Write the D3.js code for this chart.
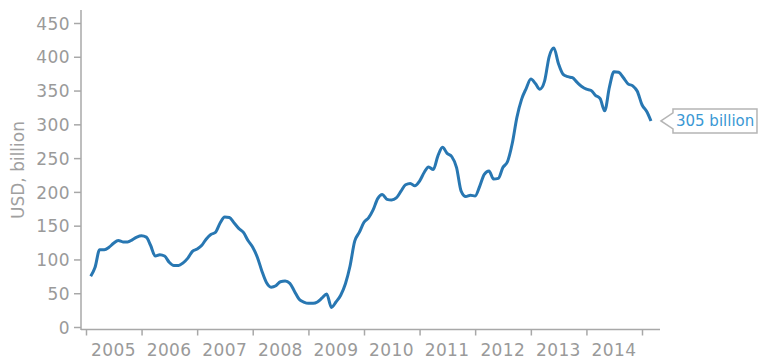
<!DOCTYPE html>
<html>
<head>
<meta charset="utf-8">
<title>USD billion</title>
<script src="https://cdn.jsdelivr.net/npm/d3@7"></script>
<style>
    body { margin: 0; background: #fff; }
    .axis text { font: 17px "DejaVu Sans", sans-serif; fill: #9a9a9a; letter-spacing: 0.4px; }
    .axis line, .axis path { stroke: #a8a8a8; stroke-width: 1.5px; }
    .line { fill: none; stroke: #2877b2; stroke-width: 3px; stroke-linejoin: round; }
</style>
</head>
<body>
<script>
// monthly values, USD billion (Feb 2005 .. Mar 2015)
var v2005 = [75, 88, 114.5, 114.5, 118, 124, 128, 126, 126, 129, 133];
var v2006 = [135, 133, 121, 105, 107, 105, 96, 91, 91, 95, 102, 112];
var v2007 = [115.5, 121, 130, 137, 140, 154, 163, 162, 154, 146, 140, 128];
var v2008 = [118, 103, 83, 65.5, 59, 61, 67, 68, 64.7, 53, 41, 37];
var v2009 = [35, 35, 37, 43, 49, 29, 37, 47, 64, 90, 127, 140];
var v2010 = [155, 162, 173, 190, 196, 189, 188, 191, 201, 210.5, 212.5, 209];
var v2011 = [216, 229, 237, 233, 253, 266, 257, 252, 236, 201, 193, 195];
var v2012 = [194, 209, 226, 231, 219, 220, 236, 245, 272, 310, 337, 353];
var v2013 = [367, 360, 352, 364, 400, 413, 390, 374, 370.5, 369, 362, 356];
var v2014 = [352, 350, 343, 338, 320, 355, 378, 377, 369, 360, 357, 349];
var v2015 = [329, 319, 305];

var yearLabels = ["2005", "2006", "2007", "2008", "2009", "2010", "2011", "2012", "2013", "2014"];
var yTicks = [0, 50, 100, 150, 200, 250, 300, 350, 400, 450];
var lastLabel = "305 billion";

var values = [].concat(v2005, v2006, v2007, v2008, v2009, v2010, v2011, v2012, v2013, v2014, v2015);
var start = new Date(2005, 1, 1);
var data = values.map(function (v, i) {
    return { date: d3.timeMonth.offset(start, i), value: v };
});

var width = 761, height = 361;

var x = d3.scaleTime()
    .domain([new Date(2005, 0, 1), new Date(2015, 0, 1)])
    .range([86, 642]);

var y = d3.scaleLinear()
    .domain([0, 450])
    .range([327, 23]);

var svg = d3.select("body").append("svg")
    .attr("width", width)
    .attr("height", height);

// y axis
var yAxis = d3.axisLeft(y)
    .tickValues(yTicks)
    .tickSize(7)
    .tickSizeOuter(0)
    .tickPadding(4);

var gy = svg.append("g")
    .attr("class", "axis")
    .attr("transform", "translate(81,0)")
    .call(yAxis);
gy.select(".domain").remove();
gy.selectAll("text").attr("dy", "0.36em");

svg.append("line")
    .attr("x1", 81).attr("x2", 81)
    .attr("y1", 10).attr("y2", 330)
    .attr("stroke", "#a8a8a8")
    .attr("stroke-width", 1.5);

// x axis
var xAxis = d3.axisBottom(x)
    .ticks(d3.timeYear.every(1))
    .tickSize(6)
    .tickFormat("");

var gx = svg.append("g")
    .attr("class", "axis")
    .attr("transform", "translate(0,329.5)")
    .call(xAxis);
gx.select(".domain").remove();

svg.append("line")
    .attr("x1", 81).attr("x2", 660)
    .attr("y1", 329.5).attr("y2", 329.5)
    .attr("stroke", "#a8a8a8")
    .attr("stroke-width", 1.5);

gx.selectAll(".year")
    .data(yearLabels)
    .enter().append("text")
    .attr("class", "year")
    .attr("x", function (d) { return x(new Date(+d, 6, 1)); })
    .attr("y", 26)
    .attr("text-anchor", "middle")
    .text(function (d) { return d; });

// y label
svg.append("text")
    .attr("transform", "translate(24,170) rotate(-90)")
    .attr("text-anchor", "middle")
    .style("font", "17px 'DejaVu Sans', sans-serif")
    .style("fill", "#a0a0a0")
    .text("USD, billion");

// line
var line = d3.line()
    .curve(d3.curveMonotoneX)
    .x(function (d) { return x(d.date); })
    .y(function (d) { return y(d.value); });

svg.append("path")
    .datum(data)
    .attr("class", "line")
    .attr("d", line);

// callout for last value
var last = data[data.length - 1];
var tx = x(last.date) + 10, ty = y(last.value);
var bx = tx + 12, bw = 84, bh = 24;
svg.append("path")
    .attr("d", "M" + tx + "," + ty +
        "L" + bx + "," + (ty - 8) +
        "L" + bx + "," + (ty - bh / 2) +
        "L" + (bx + bw) + "," + (ty - bh / 2) +
        "L" + (bx + bw) + "," + (ty + bh / 2) +
        "L" + bx + "," + (ty + bh / 2) +
        "L" + bx + "," + (ty + 8) + "Z")
    .attr("fill", "#fff")
    .attr("stroke", "#b5b5b5")
    .attr("stroke-width", 1.5);

svg.append("text")
    .attr("x", bx + 3)
    .attr("y", ty + 5.5)
    .style("font", "15px 'DejaVu Sans', sans-serif")
    .style("fill", "#3a98d4")
    .text(lastLabel);
</script>
</body>
</html>
